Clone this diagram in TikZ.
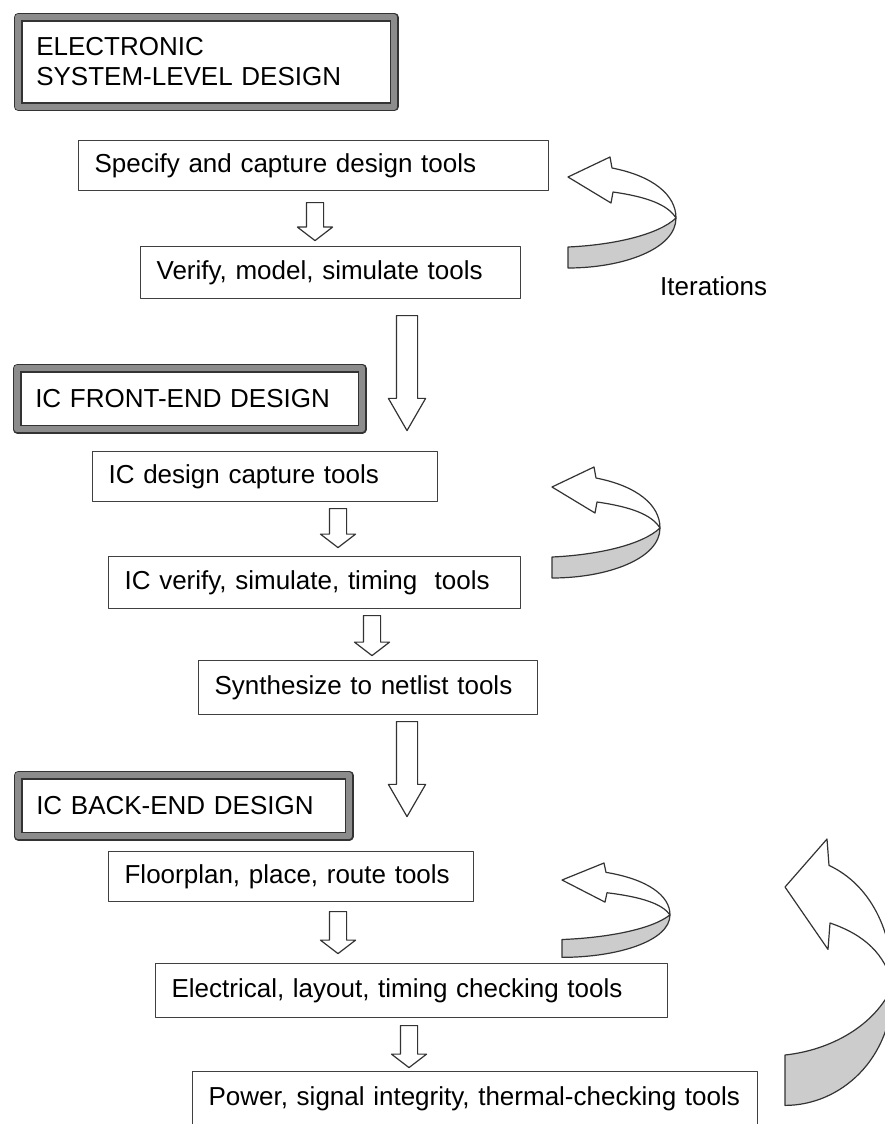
\documentclass[tikz,border=0pt]{standalone}
\usepackage{fontspec}
\setmainfont{Liberation Sans}
\usetikzlibrary{positioning,shapes.arrows}

\tikzset{
  pics/uturn/.style={code={
    \draw[fill=white] (0,0) -- (42,-20) -- (44,-9)
      .. controls (85,-1) and (108,18) .. (108,41)
      .. controls (100,28) and (80,20) .. (45,15)
      -- (43,26) -- cycle;
    \draw[fill=gray!40] (108,41) .. controls (108,72) and (55,91) .. (0,91)
      -- (0,70) .. controls (45,68) and (90,58) .. (108,41);
  }}
}

\begin{document}
\begin{tikzpicture}[x=1pt,y=-1pt,line join=round,
    every node/.style={font=\fontsize{26}{30}\selectfont},
    stage/.style={draw=black!80,line width=1.5pt,double=black!45,double distance=6pt,
      anchor=north west,align=left,inner xsep=18pt},
    tool/.style={draw=black!75,line width=1.2pt,anchor=north west,align=left,inner xsep=16pt},
    small arrow/.style={single arrow,draw=black!80,line width=1.2pt,rotate=-90,anchor=tail,
      inner xsep=0pt,inner ysep=8pt,
      minimum width=34pt,single arrow head extend=9pt,single arrow tip angle=105},
    big arrow/.style={single arrow,draw=black!80,line width=1.2pt,rotate=-90,anchor=tail,
      inner xsep=0pt,inner ysep=10pt,
      minimum width=36pt,single arrow head extend=8pt,single arrow tip angle=60},
    turn/.style={line width=1.2pt,draw=black!80}]
    \clip (0,0) rectangle (885,1124);
    % stage headers
      \node[stage,text width=340pt,minimum width=376pt,minimum height=89.5pt] (esl) at (17.5,16.5)
        {ELECTRONIC\\SYSTEM-LEVEL DESIGN};
      \node[stage,text width=309pt,minimum width=345pt,minimum height=61pt] (front) at (16.5,367.5)
        {IC FRONT-END DESIGN};
      \node[stage,text width=295pt,minimum width=331pt,minimum height=61pt] (back) at (17.5,774.5)
        {IC BACK-END DESIGN};
    % tool boxes
      \node[tool,text width=438pt,minimum height=50pt] (spec) at (78,140) {Specify and capture design tools};
      \node[tool,text width=348pt,minimum height=52pt] (model) at (140,246) {Verify, model, simulate tools};
      \node[tool,text width=313pt,minimum height=50pt] (capture) at (92,451) {IC design capture tools};
      \node[tool,text width=380pt,minimum height=52pt] (timing) at (108,556) {IC verify, simulate, timing\ \ tools};
      \node[tool,text width=307pt,minimum height=54pt] (synth) at (198,660) {Synthesize to netlist tools};
      \node[tool,text width=333pt,minimum height=50pt] (floor) at (108,851) {Floorplan, place, route tools};
      \node[tool,text width=480pt,minimum height=54pt] (check) at (155,963) {Electrical, layout, timing checking tools};
      \node[tool,text width=533pt,minimum height=55pt] (power) at (192,1071) {Power, signal integrity, thermal-checking tools};
    % block arrows
      \node[small arrow,minimum height=38pt] (a1) at (315,202) {};
      \node[small arrow,minimum height=39pt] (a2) at (338,508) {};
      \node[small arrow,minimum height=40pt] (a3) at (372,615) {};
      \node[small arrow,minimum height=42pt] (a4) at (338,911) {};
      \node[small arrow,minimum height=42pt] (a5) at (409,1025) {};
      \node[big arrow,minimum height=115pt] (b1) at (407,315) {};
      \node[big arrow,minimum height=95pt] (b2) at (407,721) {};
    % iteration arrows
      \pic[turn] at (568,177) {uturn};
      \pic[turn] at (552,487) {uturn};
      \pic[turn,yscale=0.85] at (562,880) {uturn};
      \pic[turn,yscale=2.4] at (785,887) {uturn};
      \node[anchor=base west,inner sep=0pt] (iter) at (660,295) {Iterations};
\end{tikzpicture}
\end{document}
